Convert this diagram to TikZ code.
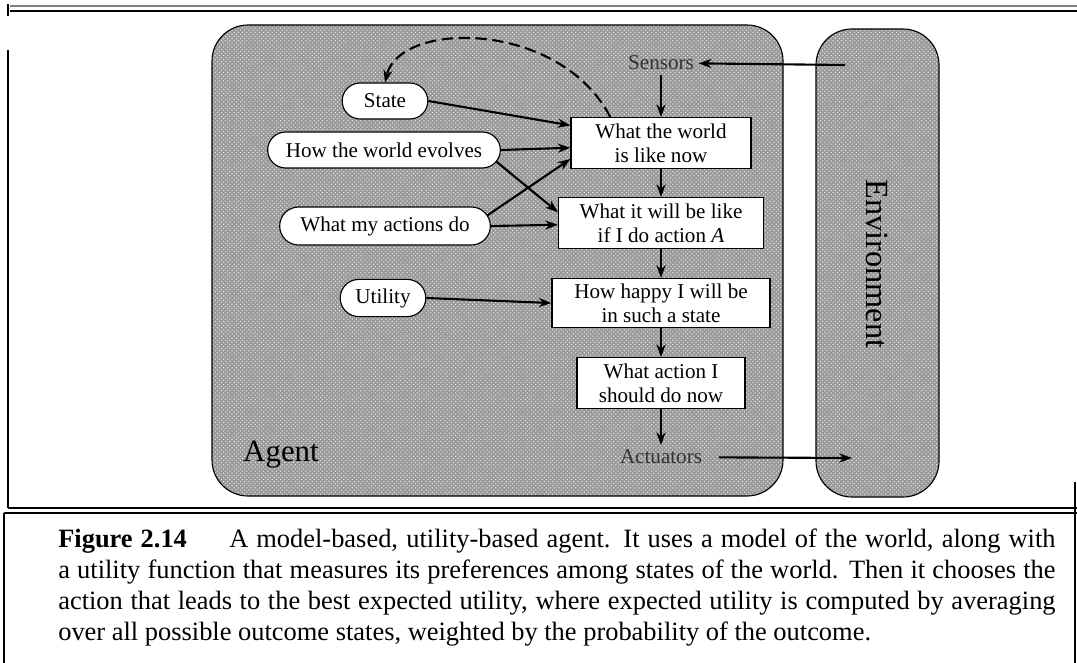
\documentclass[tikz,border=0pt]{standalone}
\usepackage{fontspec}
\setmainfont{Liberation Serif}
\usetikzlibrary{positioning,shapes.misc,calc,arrows.meta,patterns}

\tikzstyle{model} = [rounded rectangle, minimum height=0.9cm, text centered, draw=black, thick, fill=white, font=\fontsize{15}{17}\selectfont]
\tikzstyle{process} = [rectangle, minimum height=1.27cm, text centered, align=center, draw=black, thick, fill=white, font=\fontsize{15}{17}\selectfont]
\tikzstyle{port} = [font=\fontsize{15}{17}\selectfont, text=black!80]
\tikzstyle{region} = [draw=black, thick, preaction={fill=gray!80}, pattern=crosshatch dots, pattern color=white!85!gray, rounded corners=0.9cm]
\tikzstyle{arrow} = [line width=1.5pt,->,>={Stealth[length=9pt,width=6.5pt]}]
\tikzstyle{rule} = [line width=0.9pt]

\begin{document}
\begin{tikzpicture}[x=0.025cm, y=-0.025cm, node distance=2cm]

    \useasboundingbox (0,0) rectangle (1077,663);

    % frame of the figure
    \draw [rule, gray] (10,6) -- (1077,6);
    \draw [rule] (10,11) -- (1077,11);
    \draw [rule] (8,4) -- (8,16);
    \draw [rule] (8,50) -- (8,508);
    \draw [rule] (4,513) -- (4,663);
    \draw [rule] (8,508) -- (1077,508);
    \draw [rule] (4,513) -- (1077,513);
    \draw [rule] (1075,482) -- (1075,663);

    % agent and environment
    \draw [region] (212,25) rectangle (783,496);
    \draw [region] (816,29) rectangle (939,497);
    \node (agentlabel) [font=\fontsize{22}{24}\selectfont] at (281,455) {Agent};
    \node (envlabel) [rotate=-90, font=\fontsize{23}{25}\selectfont] at (877,264) {Environment};

    % knowledge of the agent
    \node (state) [model, minimum width=2.375cm] at (385,101) {State};
    \node (evolves) [model, minimum width=6.05cm] at (384,150) {How the world evolves};
    \node (actions) [model, minimum width=5.5cm, minimum height=0.95cm] at (385,226) {What my actions do};
    \node (utility) [model, minimum width=2.375cm, minimum height=0.93cm] at (383,298) {Utility};

    % right column
    \node (world) [process, minimum width=4.5cm] at (661,143) {What the world\\is like now};
    \node (sensors) [port, above of=world] {Sensors};
    \node (future) [process, minimum width=5.125cm, below of=world] {What it will be like\\if I do action \textit{A}};
    \node (happy) [process, minimum width=5.45cm, minimum height=1.23cm, below of=future] {How happy I will be\\in such a state};
    \node (decide) [process, minimum width=4.2cm, below of=happy] {What action I\\should do now};
    \node (actuators) [port, below of=decide, node distance=1.85cm] {Actuators};

    \coordinate (envin) at (845,65);
    \coordinate (envout) at (852,458);

    \draw [arrow] (envin) -- (sensors);
    \draw [arrow] (sensors) -- (world);
    \draw [arrow] (world) -- (future);
    \draw [arrow] (future) -- (happy);
    \draw [arrow] (happy) -- (decide);
    \draw [arrow] (decide) -- (actuators);
    \draw [arrow, shorten <=0.3cm] (actuators) -- (envout);

    \draw [arrow] (state.east) -- (world.169);
    \draw [arrow] (evolves.east) -- (world.183);
    \draw [arrow] (actions.6) -- (world.190);
    \draw [arrow] (evolves.-6) -- (future.174);
    \draw [arrow] (actions.east) -- (future.181);
    \draw [arrow] (utility.east) -- (happy.west);
    \draw [arrow, dash pattern=on 8pt off 4pt] ($(world.north west)!0.22!(world.north east)$) .. controls (560,20) and (400,20) .. (state.north);

    % caption
    \node (caption) [anchor=north west, inner sep=0pt, text width=24.925cm, align=justify, font=\fontsize{18.8}{22}\selectfont] at (58,529) {\textbf{Figure 2.14}\hspace{1.3em} A model-based, utility-based agent. It uses a model of the world, along with\linebreak a utility function that measures its preferences among states of the world. Then it chooses the\linebreak action that leads to the best expected utility, where expected utility is computed by averaging\linebreak over all possible outcome states, weighted by the probability of the outcome.};

\end{tikzpicture}
\end{document}
